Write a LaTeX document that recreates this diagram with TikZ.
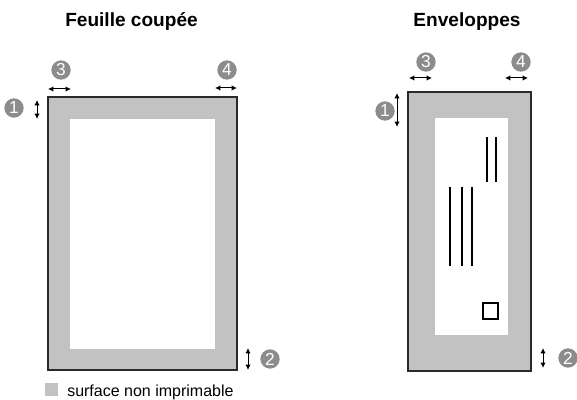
\documentclass[tikz,border=0pt]{standalone}
\usepackage{fontspec}
\setmainfont{Liberation Sans}
\usetikzlibrary{arrows.meta}
\definecolor{marginfill}{HTML}{C2C2C2}
\definecolor{numfill}{HTML}{8C8C8C}
\definecolor{edgecol}{HTML}{2A2A2A}
\tikzset{
  sheet/.style={draw=edgecol, fill=marginfill, line width=1.1pt},
  printarea/.style={fill=white, draw=none},
  numdot/.style={circle, fill=numfill, text=white, inner sep=0pt, minimum size=14.5pt, font=\fontsize{13}{14}\selectfont},
  dimarrow/.style={{Latex[length=4pt,width=4pt]}-{Latex[length=4pt,width=4pt]}, line width=0.75pt, black},
  stamp/.style={line width=0.8pt, black},
  titletext/.style={inner sep=0pt, anchor=base, font=\fontsize{14.3}{16}\selectfont\bfseries},
  legendtext/.style={inner sep=0pt, anchor=base west, font=\fontsize{12}{14}\selectfont}
}
\begin{document}
\begin{tikzpicture}[x=0.75pt,y=-0.75pt]
\useasboundingbox (0,0) rectangle (577,399);
% titles
\node[titletext] (t1) at (131.5,27) {Feuille coupée};
\node[titletext] (t2) at (467,27) {Enveloppes};
% left sheet
\path[sheet] (48,97) rectangle (237,370);
\path[printarea] (70,119) rectangle (215,349);
% left numbers
\node[numdot] (l1) at (14,108) {1};
\node[numdot] (l2) at (270,359) {2};
\node[numdot] (l3) at (61,70) {3};
\node[numdot] (l4) at (227,70) {4};
\coordinate (a1s) at (37,100); \coordinate (a1e) at (37,119);
\coordinate (a2s) at (248,348); \coordinate (a2e) at (248,370);
\coordinate (a3s) at (48,89); \coordinate (a3e) at (71,89);
\coordinate (a4s) at (215,88); \coordinate (a4e) at (237,88);
\draw[dimarrow] (a1s) -- (a1e);
\draw[dimarrow] (a2s) -- (a2e);
\draw[dimarrow] (a3s) -- (a3e);
\draw[dimarrow] (a4s) -- (a4e);
% legend
\path[fill=marginfill] (45,383) rectangle (58,396);
\node[legendtext] (leg) at (67,396) {surface non imprimable};
% envelope
\path[sheet] (408,92) rectangle (531,371);
\path[printarea] (435,118) rectangle (508,335);
\draw[stamp] (487,137) -- (487,182);
\draw[stamp] (496,137) -- (496,182);
\draw[stamp] (450,187) -- (450,266);
\draw[stamp] (462,187) -- (462,266);
\draw[stamp] (472,187) -- (472,266);
\draw[line width=0.8pt, draw=black, fill=white] (483,303) rectangle (498,319);
% right numbers
\node[numdot] (r1) at (385,111) {1};
\node[numdot] (r2) at (568,358) {2};
\node[numdot] (r3) at (426,62) {3};
\node[numdot] (r4) at (521,62) {4};
\coordinate (b1s) at (397,93); \coordinate (b1e) at (397,127);
\coordinate (b2s) at (543,348); \coordinate (b2e) at (543,368);
\coordinate (b3s) at (409,78); \coordinate (b3e) at (432,78);
\coordinate (b4s) at (505,78); \coordinate (b4e) at (528,78);
\draw[dimarrow] (b1s) -- (b1e);
\draw[dimarrow] (b2s) -- (b2e);
\draw[dimarrow] (b3s) -- (b3e);
\draw[dimarrow] (b4s) -- (b4e);
\end{tikzpicture}
\end{document}
